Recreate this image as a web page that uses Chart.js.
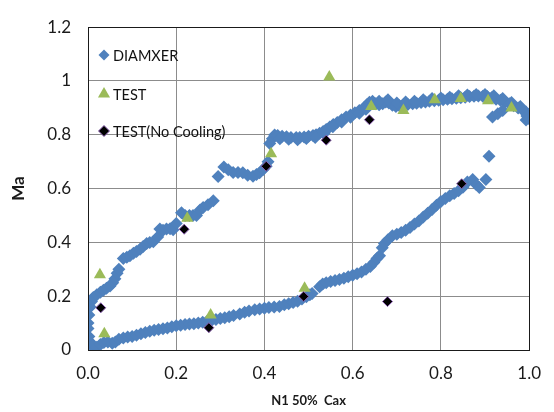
<!DOCTYPE html>
<html>
<head>
<meta charset="utf-8">
<script src="https://cdn.jsdelivr.net/npm/chart.js@4"></script>
<style>
  html, body { margin: 0; padding: 0; background: #fff; }
  #wrap { width: 554px; height: 412px; }
</style>
</head>
<body>
<div id="wrap"><canvas id="chart" width="554" height="412"></canvas></div>
<script>
const seriesNames = ['DIAMXER', 'TEST', 'TEST(No Cooling)'];

// DIAMXER, suction side then pressure side
const diamxerSuction = [
    [0.0, 0.10], [0.002, 0.13], [0.005, 0.16], [0.008, 0.18], [0.012, 0.195], [0.02, 0.205],
    [0.028, 0.215], [0.035, 0.222], [0.042, 0.23], [0.05, 0.238], [0.056, 0.25], [0.061, 0.265],
    [0.066, 0.285], [0.07, 0.30], [0.08, 0.34], [0.088, 0.345], [0.095, 0.35], [0.103, 0.36],
    [0.11, 0.366], [0.118, 0.375], [0.125, 0.385], [0.133, 0.396], [0.14, 0.40], [0.148, 0.402],
    [0.158, 0.42], [0.163, 0.45], [0.17, 0.445], [0.178, 0.45], [0.186, 0.451], [0.193, 0.447],
    [0.2, 0.47], [0.212, 0.51], [0.22, 0.50], [0.23, 0.50], [0.238, 0.50], [0.246, 0.50],
    [0.254, 0.52], [0.261, 0.53], [0.272, 0.54], [0.284, 0.555], [0.295, 0.645], [0.308, 0.68],
    [0.318, 0.67], [0.329, 0.66], [0.34, 0.66], [0.351, 0.659], [0.362, 0.65], [0.374, 0.646],
    [0.382, 0.652], [0.389, 0.659], [0.397, 0.671], [0.404, 0.683], [0.408, 0.70], [0.412, 0.768],
    [0.418, 0.785], [0.423, 0.799], [0.43, 0.797], [0.44, 0.795], [0.45, 0.793], [0.46, 0.79],
    [0.472, 0.79], [0.48, 0.79], [0.49, 0.792], [0.5, 0.795], [0.51, 0.797], [0.517, 0.80],
    [0.525, 0.806], [0.533, 0.812], [0.54, 0.82], [0.548, 0.829], [0.556, 0.838], [0.565, 0.846],
    [0.575, 0.856], [0.585, 0.866], [0.595, 0.874], [0.605, 0.882], [0.615, 0.89], [0.625, 0.90],
    [0.632, 0.912], [0.638, 0.921], [0.645, 0.925], [0.652, 0.915], [0.66, 0.912], [0.668, 0.915],
    [0.675, 0.922], [0.682, 0.918], [0.69, 0.91], [0.698, 0.905], [0.706, 0.908], [0.715, 0.912],
    [0.725, 0.913], [0.736, 0.915], [0.745, 0.917], [0.755, 0.92], [0.765, 0.922], [0.774, 0.925],
    [0.785, 0.927], [0.795, 0.928], [0.805, 0.93], [0.815, 0.932], [0.825, 0.934], [0.835, 0.936],
    [0.845, 0.938], [0.855, 0.94], [0.865, 0.942], [0.875, 0.943], [0.885, 0.944], [0.895, 0.943],
    [0.905, 0.942], [0.915, 0.938], [0.925, 0.932], [0.935, 0.928], [0.945, 0.922], [0.955, 0.915],
    [0.965, 0.908], [0.975, 0.90], [0.985, 0.892], [0.993, 0.885], [1.0, 0.876], [0.998, 0.865],
    [0.993, 0.855],
    // second row of the thick bands
    [0.435, 0.785], [0.455, 0.783], [0.475, 0.782], [0.495, 0.786], [0.515, 0.79], [0.535, 0.805],
    [0.555, 0.83], [0.575, 0.848], [0.595, 0.865], [0.615, 0.88], [0.63, 0.895],
    [0.66, 0.925], [0.68, 0.93], [0.70, 0.918], [0.72, 0.922], [0.74, 0.925], [0.76, 0.93],
    [0.78, 0.935], [0.80, 0.937], [0.82, 0.94], [0.84, 0.945], [0.86, 0.948], [0.88, 0.95],
    [0.90, 0.95], [0.92, 0.945], [0.94, 0.935], [0.96, 0.92], [0.98, 0.905], [0.995, 0.87],
    [1.0, 0.86]
];
const diamxerPressure = [
    [0.0, 0.08], [0.002, 0.05], [0.005, 0.03], [0.01, 0.015], [0.016, 0.0], [0.02, 0.01],
    [0.028, 0.02], [0.036, 0.028], [0.045, 0.03], [0.055, 0.025], [0.062, 0.03], [0.07, 0.04],
    [0.08, 0.045], [0.09, 0.048], [0.1, 0.05], [0.11, 0.055], [0.12, 0.06], [0.13, 0.065],
    [0.14, 0.07], [0.15, 0.073], [0.16, 0.076], [0.17, 0.079], [0.18, 0.082], [0.19, 0.086],
    [0.2, 0.09], [0.21, 0.092], [0.22, 0.095], [0.23, 0.097], [0.24, 0.098], [0.25, 0.10],
    [0.26, 0.103], [0.27, 0.107], [0.28, 0.11], [0.29, 0.113], [0.3, 0.117], [0.31, 0.12],
    [0.32, 0.124], [0.33, 0.128], [0.344, 0.134], [0.355, 0.14], [0.365, 0.145], [0.378, 0.15],
    [0.389, 0.152], [0.4, 0.155], [0.41, 0.158], [0.422, 0.16], [0.434, 0.162], [0.445, 0.168],
    [0.455, 0.172], [0.465, 0.177], [0.475, 0.181], [0.485, 0.19], [0.495, 0.198], [0.503, 0.205],
    [0.508, 0.21], [0.525, 0.235], [0.532, 0.245], [0.54, 0.25], [0.55, 0.255], [0.56, 0.258],
    [0.57, 0.262], [0.58, 0.267], [0.59, 0.272], [0.6, 0.278], [0.61, 0.283], [0.62, 0.29],
    [0.63, 0.30], [0.64, 0.31], [0.648, 0.325], [0.655, 0.34], [0.661, 0.35], [0.667, 0.38],
    [0.672, 0.396], [0.68, 0.41], [0.69, 0.425], [0.70, 0.43], [0.71, 0.437], [0.72, 0.445],
    [0.73, 0.455], [0.74, 0.468], [0.75, 0.48], [0.76, 0.494], [0.77, 0.508], [0.78, 0.522],
    [0.79, 0.538], [0.80, 0.552], [0.81, 0.563], [0.82, 0.573], [0.83, 0.582], [0.84, 0.592],
    [0.85, 0.605], [0.86, 0.625], [0.872, 0.634], [0.88, 0.615], [0.887, 0.604], [0.902, 0.634],
    [0.909, 0.72], [0.917, 0.866], [0.929, 0.878], [0.94, 0.89]
];
const testPoints = [
    [0.027, 0.28], [0.037, 0.06], [0.225, 0.49], [0.278, 0.13], [0.415, 0.73], [0.491, 0.23],
    [0.547, 1.015], [0.642, 0.905], [0.715, 0.89], [0.786, 0.93], [0.845, 0.935], [0.907, 0.927],
    [0.96, 0.90]
];
const noCoolingPoints = [
    [0.029, 0.157], [0.218, 0.449], [0.274, 0.083], [0.404, 0.683], [0.489, 0.199], [0.54, 0.78],
    [0.638, 0.856], [0.679, 0.18], [0.847, 0.618]
];

const xTickValues = [0, 0.2, 0.4, 0.6, 0.8, 1.0];
const yTickValues = [0, 0.2, 0.4, 0.6, 0.8, 1.0, 1.2];

const FONT = 'Lato, "Open Sans", sans-serif';
const toXY = pts => pts.map(p => ({ x: p[0], y: p[1] }));

const styles = [
    { pointStyle: 'rectRot', radius: 6.5, fill: '#4f81bd', stroke: '#4f81bd', borderWidth: 0 },
    { pointStyle: 'triangle', radius: 7, fill: '#9bbb59', stroke: '#9bbb59', borderWidth: 0 },
    { pointStyle: 'rectRot', radius: 5, fill: '#000000', stroke: '#8a5fb0', borderWidth: 1 }
];

const makeSet = (i, data, order) => ({
    label: seriesNames[i],
    data: data,
    order: order,
    showLine: false,
    pointStyle: styles[i].pointStyle,
    pointRadius: styles[i].radius,
    pointBackgroundColor: styles[i].fill,
    pointBorderColor: styles[i].stroke,
    pointBorderWidth: styles[i].borderWidth
});

// plot border + legend inside the plot
const frameAndLegend = {
    id: 'frameAndLegend',
    afterDatasetsDraw(chart) {
        const { ctx, chartArea: a } = chart;
        ctx.save();
        ctx.strokeStyle = '#1a1a1a';
        ctx.lineWidth = 1;
        ctx.strokeRect(Math.round(a.left) + 0.5, Math.round(a.top) + 0.5,
            Math.round(a.right - a.left), Math.round(a.bottom - a.top));

        const rows = [55, 94, 131];
        ctx.font = '14.5px ' + FONT;
        ctx.textBaseline = 'middle';
        ctx.textAlign = 'left';
        rows.forEach((y, i) => {
            const s = styles[i];
            ctx.fillStyle = s.fill;
            ctx.strokeStyle = s.stroke;
            ctx.lineWidth = s.borderWidth;
            Chart.helpers.drawPoint(ctx, {
                pointStyle: s.pointStyle,
                radius: i === 1 ? 7 : 5.5,
                borderWidth: s.borderWidth,
                rotation: 0
            }, 104, y);
            ctx.fillStyle = '#111';
            ctx.fillText(seriesNames[i], 113, y + 1);
        });
        ctx.restore();
    }
};

new Chart(document.getElementById('chart'), {
    type: 'scatter',
    data: {
        datasets: [
            makeSet(2, toXY(noCoolingPoints), 1),
            makeSet(1, toXY(testPoints), 2),
            makeSet(0, toXY(diamxerSuction.concat(diamxerPressure)), 3)
        ]
    },
    options: {
        responsive: false,
        animation: false,
        layout: { padding: { left: 0, right: 24, top: 22, bottom: 0 } },
        plugins: { legend: { display: false }, tooltip: { enabled: false } },
        scales: {
            x: {
                type: 'linear',
                min: xTickValues[0],
                max: xTickValues[xTickValues.length - 1],
                afterBuildTicks: s => { s.ticks = xTickValues.map(v => ({ value: v })); },
                afterFit: s => { s.height = 62; },
                grid: { color: '#8c8c8c', lineWidth: 1, drawTicks: false },
                border: { display: false },
                ticks: {
                    padding: 13,
                    color: '#1a1a1a',
                    font: { family: FONT, size: 17 },
                    callback: v => Number(v).toFixed(1)
                },
                title: {
                    display: true,
                    text: 'N1 50%  Cax',
                    color: '#1a1a1a',
                    font: { family: FONT, size: 13, weight: 'bold' },
                    padding: { top: 0, bottom: 3 }
                }
            },
            y: {
                type: 'linear',
                min: yTickValues[0],
                max: yTickValues[yTickValues.length - 1],
                afterBuildTicks: s => { s.ticks = yTickValues.map(v => ({ value: v })); },
                afterFit: s => { s.width = 88; },
                grid: { color: '#8c8c8c', lineWidth: 1, drawTicks: false },
                border: { display: false },
                ticks: {
                    padding: 17,
                    color: '#1a1a1a',
                    font: { family: FONT, size: 17 },
                    callback: v => String(Math.round(v * 10) / 10)
                },
                title: {
                    display: true,
                    text: 'Ma',
                    color: '#1a1a1a',
                    font: { family: FONT, size: 17, weight: 'bold' },
                    padding: { top: 8, bottom: 0 }
                }
            }
        }
    },
    plugins: [frameAndLegend]
});
</script>
</body>
</html>
